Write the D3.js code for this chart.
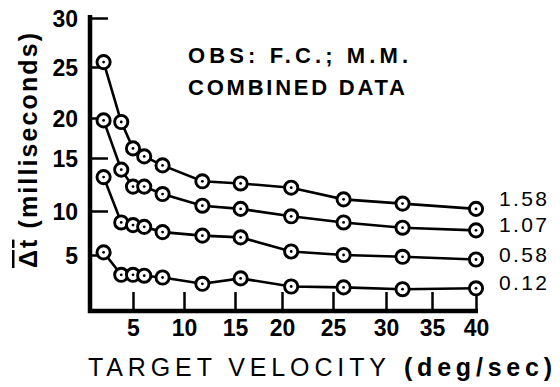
<!DOCTYPE html>
<html><head><meta charset="utf-8">
<script src="https://cdn.jsdelivr.net/npm/d3@7"></script>
<style>body{margin:0;background:#fff} svg{display:block}</style>
</head><body>
<script>
// ---- data ----
const velocities = [2, 3.8, 5, 6.1, 7.9, 11.8, 15.6, 20.9, 26, 31.8, 40];
const series158 = [25.5, 19.5, 16.2, 15.2, 14.3, 12.8, 12.6, 12.2, 11.1, 10.7, 10.2];
const series107 = [19.7, 13.9, 12.3, 12.3, 11.6, 10.5, 10.2, 9.4, 8.7, 8.1, 7.8];
const series058 = [13.2, 8.7, 8.4, 8.2, 7.6, 7.2, 7.0, 5.4, 5.0, 4.8, 4.5];
const series012 = [5.3, 2.8, 2.8, 2.7, 2.5, 1.8, 2.4, 1.5, 1.4, 1.2, 1.3];
const seriesNames = ["1.58", "1.07", "0.58", "0.12"];
const xTickValues = [5, 10, 15, 20, 25, 30, 35, 40];
const yTickValues = [5, 10, 15, 20, 25, 30];
const titleLines = ["OBS: F.C.; M.M.", "COMBINED  DATA"];
const xTitleWords = "TARGET  VELOCITY";
const xTitleUnit = "(deg/sec)";
const yTitleSymbol = "Δt";
const yTitleUnit = " (milliseconds)";

const allSeries = [series158, series107, series058, series012];

// ---- drawing ----
const W = 560, H = 387;
const svg = d3.select("body").append("svg").attr("width", W).attr("height", H);

// hand-drawn axes are slightly uneven; piecewise linear scales follow them
const x = d3.scaleLinear()
  .domain([0, 5, 10, 15, 20, 25, 30, 35, 40])
  .range([84, 133, 184, 235, 282, 333, 386, 432, 476]);
const y = d3.scaleLinear()
  .domain([0, 5, 10, 15, 20, 25, 30])
  .range([300, 255, 211, 158, 118, 67, 18]);

const axisX0 = 90, axisY0 = 311, axisTop = 15, axisRight = 478;
const FONT = "'Liberation Sans', Arial, sans-serif";

// y axis ticks & labels
const yAxis = svg.append("g").attr("transform", `translate(${axisX0},0)`)
  .call(d3.axisLeft(y).tickValues(yTickValues).tickSize(-18).tickPadding(12).tickSizeOuter(0));
yAxis.select(".domain").remove();
yAxis.selectAll(".tick line").attr("stroke", "#000").attr("stroke-width", 2.5);
yAxis.selectAll(".tick text").attr("font-family", FONT).attr("font-size", 23)
  .attr("font-weight", "bold").attr("fill", "#000").attr("dy", "0.36em");

// x axis ticks & labels
const xAxis = svg.append("g").attr("transform", `translate(0,${axisY0})`)
  .call(d3.axisBottom(x).tickValues(xTickValues).tickSize(-19).tickPadding(9).tickSizeOuter(0));
xAxis.select(".domain").remove();
xAxis.selectAll(".tick line").attr("stroke", "#000").attr("stroke-width", 2.5);
xAxis.selectAll(".tick text").attr("font-family", FONT).attr("font-size", 23)
  .attr("font-weight", "bold").attr("fill", "#000");

// main axis lines (thick)
svg.append("path")
  .attr("d", `M${axisX0},${axisTop}V${axisY0}H${axisRight}`)
  .attr("fill", "none").attr("stroke", "#000").attr("stroke-width", 4.5)
  .attr("stroke-linejoin", "miter");

// series lines
const line = d3.line().x((d, i) => x(velocities[i])).y(d => y(d));
allSeries.forEach((s, k) => {
  svg.append("path").datum(s).attr("d", line)
    .attr("fill", "none").attr("stroke", "#000").attr("stroke-width", 2.6);
});

// markers
allSeries.forEach((s, k) => {
  const g = svg.append("g");
  g.selectAll("circle.o").data(s).join("circle").attr("class", "o")
    .attr("cx", (d, i) => x(velocities[i])).attr("cy", d => y(d))
    .attr("r", 6.6).attr("fill", "#fff").attr("stroke", "#000").attr("stroke-width", 2.9);
  g.selectAll("circle.c").data(s).join("circle").attr("class", "c")
    .attr("cx", (d, i) => x(velocities[i])).attr("cy", d => y(d))
    .attr("r", 1.4).attr("fill", "#000");
});

// series end labels, stacked so they do not collide
const labelBase = allSeries.map(s => y(s[s.length - 1]) + 2);
for (let k = labelBase.length - 2; k >= 0; k--) {
  labelBase[k] = Math.min(labelBase[k], labelBase[k + 1] - 26);
}
allSeries.forEach((s, k) => {
  svg.append("text")
    .attr("x", x(velocities[velocities.length - 1]) + 23)
    .attr("y", labelBase[k])
    .attr("font-family", FONT).attr("font-size", 21).attr("fill", "#000")
    .attr("textLength", 48).attr("lengthAdjust", "spacing")
    .text(seriesNames[k]);
});

// annotation
svg.append("text").attr("x", 188).attr("y", 63)
  .attr("font-family", FONT).attr("font-size", 22).attr("font-weight", "bold")
  .attr("textLength", 220).attr("lengthAdjust", "spacing")
  .text(titleLines[0]);
svg.append("text").attr("x", 188).attr("y", 95)
  .attr("font-family", FONT).attr("font-size", 22).attr("font-weight", "bold")
  .attr("textLength", 217).attr("lengthAdjust", "spacing")
  .text(titleLines[1]);

// x title
svg.append("text").attr("x", 88).attr("y", 376)
  .attr("font-family", FONT).attr("font-size", 25).attr("fill", "#000")
  .attr("textLength", 298).attr("lengthAdjust", "spacing")
  .text(xTitleWords);
svg.append("text").attr("x", 404).attr("y", 376)
  .attr("font-family", FONT).attr("font-size", 25).attr("font-weight", "bold").attr("fill", "#000")
  .attr("textLength", 148).attr("lengthAdjust", "spacing")
  .text(xTitleUnit);

// y title (rotated)
const yt = svg.append("text")
  .attr("transform", "translate(37,268) rotate(-90)")
  .attr("font-family", FONT).attr("font-size", 25).attr("font-weight", "bold")
  .attr("textLength", 235).attr("lengthAdjust", "spacing");
yt.append("tspan").style("text-decoration", "overline").text(yTitleSymbol);
yt.append("tspan").text(yTitleUnit);
</script>
</body></html>
